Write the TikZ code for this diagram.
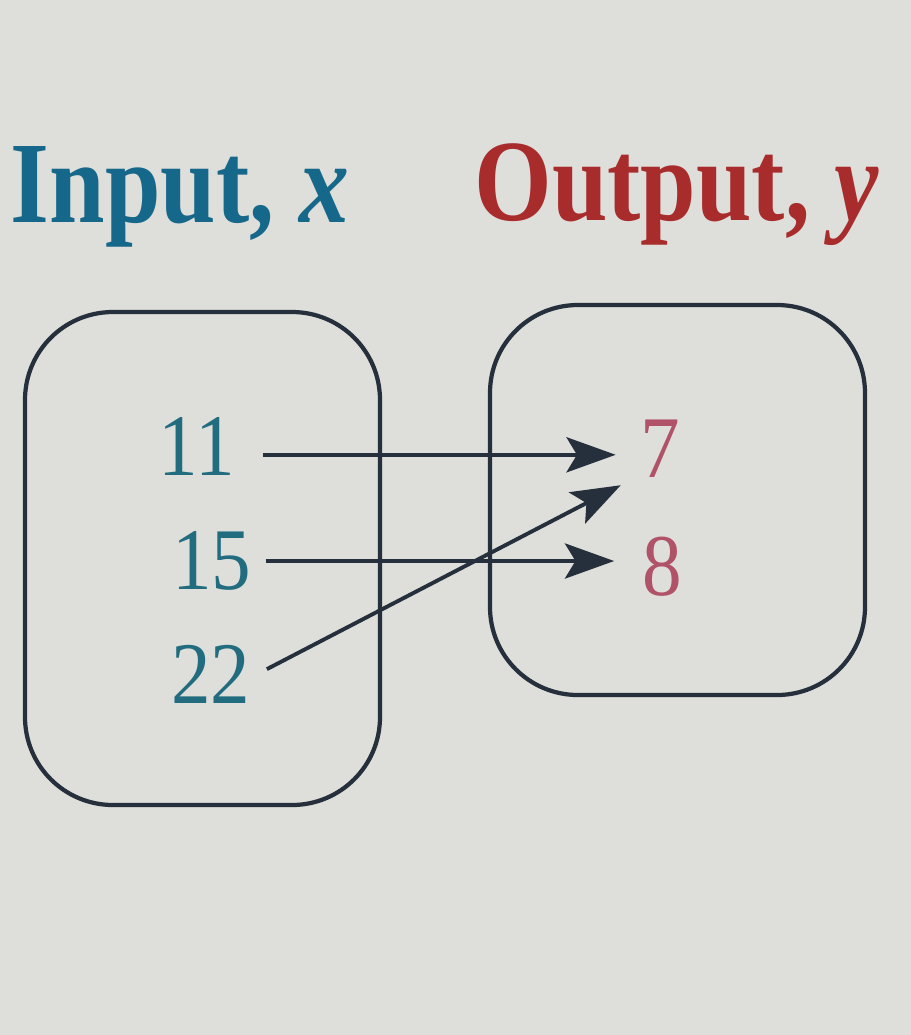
\documentclass[tikz,border=0pt]{standalone}
\usepackage{fontspec}
\setmainfont{Liberation Serif}
\usetikzlibrary{arrows.meta}
\definecolor{inblue}{RGB}{22,104,138}
\definecolor{outred}{RGB}{168,44,44}
\definecolor{numteal}{RGB}{34,108,128}
\definecolor{numpink}{RGB}{176,82,104}
\definecolor{ink}{RGB}{38,48,60}
\definecolor{paper}{RGB}{222,222,218}
\begin{document}
\begin{tikzpicture}[x=0.01cm, y=-0.01cm,
	title/.style={anchor=base, inner sep=0pt, xscale=0.86, transform shape, font=\fontsize{33}{36}\selectfont\bfseries},
	num/.style={inner sep=2pt, xscale=0.9, transform shape, font=\fontsize{25}{28}\selectfont},
	set/.style={draw=ink, line width=1.2pt, rounded corners=25pt},
	arr/.style={draw=ink, line width=1.1pt, -{Stealth[length=14pt, width=10pt, inset=3pt]}}]
	\useasboundingbox (0,0) rectangle (911,1035);
	\fill[paper] (0,0) rectangle (911,1035);
	% headings
	\node[title, text=inblue] (inp) at (180,222) {Input, \textit{x}};
	\node[title, text=outred] (outp) at (677,220) {Output, \textit{y}};
	% the two sets
	\draw[set] (25,312) rectangle (380,805);
	\draw[set] (490,305) rectangle (865,695);
	% inputs
	\node[num, text=numteal] (n11) at (197,446) {11};
	\node[num, text=numteal] (n15) at (212,561) {15};
	\node[num, text=numteal] (n22) at (211,674) {22};
	% outputs
	\node[num, text=numpink] (n7) at (660,449) {7};
	\node[num, text=numpink] (n8) at (662,567) {8};
	% mapping
	\draw[arr, shorten <=6pt, shorten >=5pt] ([yshift=-2.5pt]n11.east) -- ([yshift=-2.5pt]n11.east -| n7.west);
	\draw[arr, shorten <=2pt, shorten >=6pt] (n15.east) -- (n15.east -| n8.west);
	\draw[arr, shorten <=3pt, shorten >=4pt] (n22.east) -- (n7.225);
\end{tikzpicture}
\end{document}
